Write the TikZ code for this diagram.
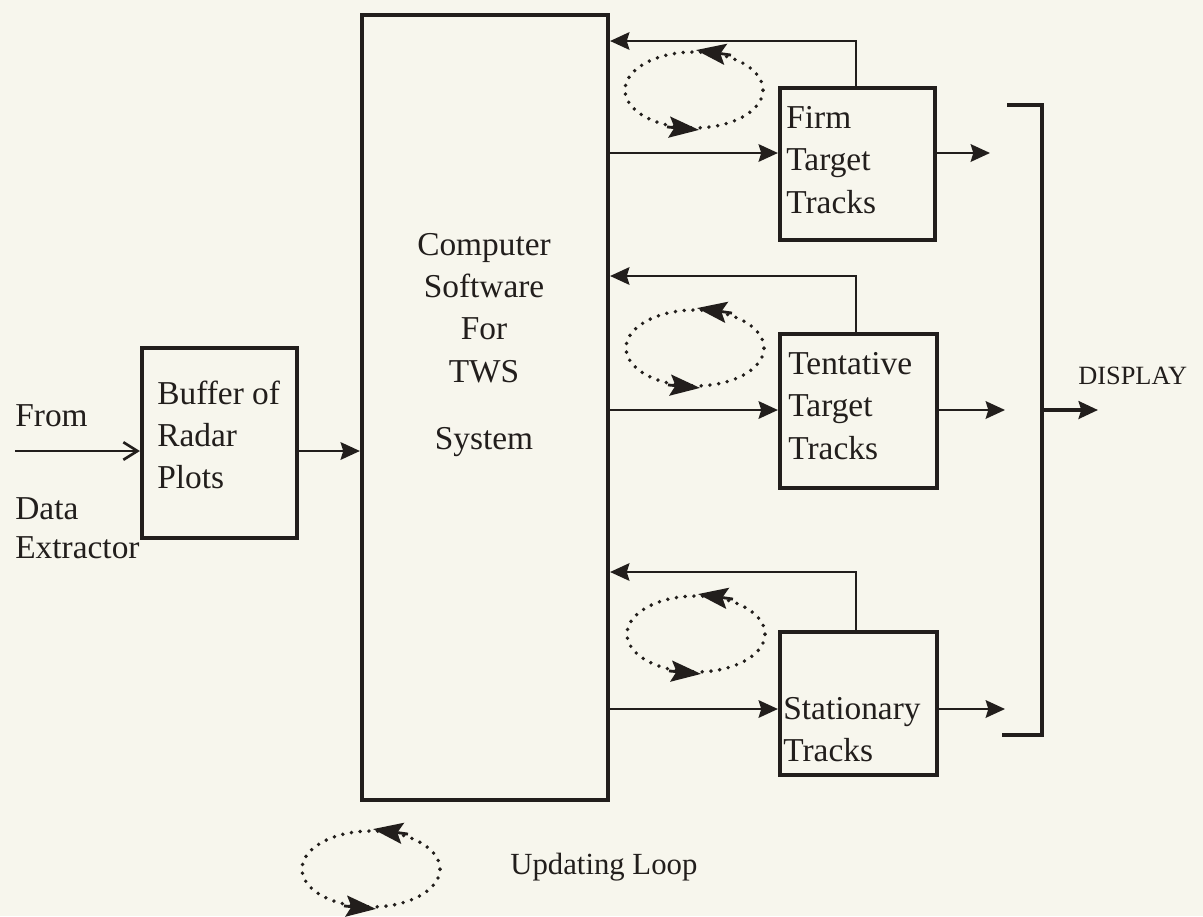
\documentclass[tikz,border=0pt]{standalone}
\usepackage{fontspec}
\setmainfont{Liberation Serif}
\usetikzlibrary{arrows.meta,shapes.geometric}
\definecolor{paper}{HTML}{F7F6ED}
\definecolor{ink}{HTML}{221E1C}
\tikzset{
  blk/.style={draw=ink, line width=2.4pt, inner sep=0pt},
  txt/.style={text=ink, font=\fontsize{19}{24}\selectfont, inner sep=0pt},
  flow/.style={draw=ink, line width=1.3pt, -{Stealth[length=11pt, width=10pt, inset=1.5pt]}},
  inflow/.style={draw=ink, line width=1.5pt, -{Straight Barb[length=8pt, width=10pt]}},
  uloop/.style={ellipse, draw=ink, line width=2.2pt, dash pattern=on 0pt off 5pt,
    line cap=round, minimum width=2.76cm, minimum height=1.52cm, inner sep=0pt},
  looptip/.style={ink, line width=1.6pt, -{Stealth[length=17pt, width=12pt, inset=3pt]}},
}
\newcommand{\updloop}[3]{%
  \node[uloop] (#1) at (#2,#3) {};
  \draw[looptip] ([xshift=0.74cm, yshift=-0.1cm]#1.north) -- ([xshift=0.04cm]#1.north);
  \draw[looptip] ([xshift=-0.54cm, yshift=0.06cm]#1.south) -- ([xshift=0.1cm]#1.south);}
\newcommand{\track}[4]{% box, feedback y, arrow y, output end x
  \coordinate (#1fb) at (856,#2);
  \coordinate (#1in) at (0,#3);
  \coordinate (#1out) at (#4,#3);
  \draw[flow] (#1.north -| #1fb) -- (#1fb) -- (tws.east |- #1fb);
  \draw[flow] (tws.east |- #1in) -- (#1.west |- #1in);
  \draw[flow] (#1.east |- #1in) -- (#1out);}

\begin{document}
\begin{tikzpicture}[x=0.02cm, y=-0.02cm]
  \fill[paper] (0,0) rectangle (1203,916);
  % boxes
  \node[blk, minimum width=4.92cm, minimum height=15.7cm] (tws) at (485,407.5) {};
  \node[blk, minimum width=3.1cm, minimum height=3.8cm] (buf) at (219.5,443) {};
  \node[blk, minimum width=3.1cm, minimum height=3.04cm] (firm) at (857.5,164) {};
  \node[blk, minimum width=3.14cm, minimum height=3.08cm] (tent) at (858.5,411) {};
  \node[blk, minimum width=3.14cm, minimum height=2.86cm] (stat) at (858.5,703.5) {};
  % texts
  \node[txt, align=center] (twsTxt) at (484,345) {Computer\\Software\\For\\TWS\\[0.75em]System};
  \node[txt, anchor=west, align=left] (bufTxt) at (157,435) {Buffer of\\Radar\\Plots};
  \node[txt, anchor=west, align=left] (firmTxt) at (786,160) {Firm\\Target\\Tracks};
  \node[txt, anchor=west, align=left] (tentTxt) at (788,406) {Tentative\\Target\\Tracks};
  \node[txt, anchor=west, align=left] (statTxt) at (783,730) {Stationary\\Tracks};
  \node[txt, anchor=west] (fromLbl) at (15,416) {From};
  \node[txt, anchor=west] (dataLbl) at (15,509) {Data};
  \node[txt, anchor=west] (extLbl) at (15,548) {Extractor};
  \node[txt, anchor=west, font=\fontsize{15}{18}\selectfont] (dispTxt) at (1078,376) {DISPLAY};
  \node[txt, anchor=west, font=\fontsize{17.5}{21}\selectfont] (legTxt) at (510,867) {Updating Loop};
  % input side
  \coordinate (srcStart) at (15,451);
  \draw[inflow] (srcStart) -- (buf.west |- srcStart);
  \draw[flow] (buf.east |- srcStart) -- (tws.west |- srcStart);
  % track files
  \track{firm}{41}{153}{990}
  \track{tent}{276}{410}{1005}
  \track{stat}{572}{709}{1005}
  \updloop{firmLoop}{694}{90}
  \updloop{tentLoop}{695}{348}
  \updloop{statLoop}{696}{634}
  \updloop{legLoop}{371}{869}
  % display bracket
  \coordinate (brTop) at (1042,105);
  \coordinate (brBot) at (1042,735);
  \coordinate (dispEnd) at (1098,410);
  \draw[ink, line width=2.4pt] (1007,105) -- (brTop) -- (brBot) -- (1002,735);
  \draw[flow, line width=2.2pt] (brTop |- dispEnd) -- (dispEnd);
\end{tikzpicture}
\end{document}
